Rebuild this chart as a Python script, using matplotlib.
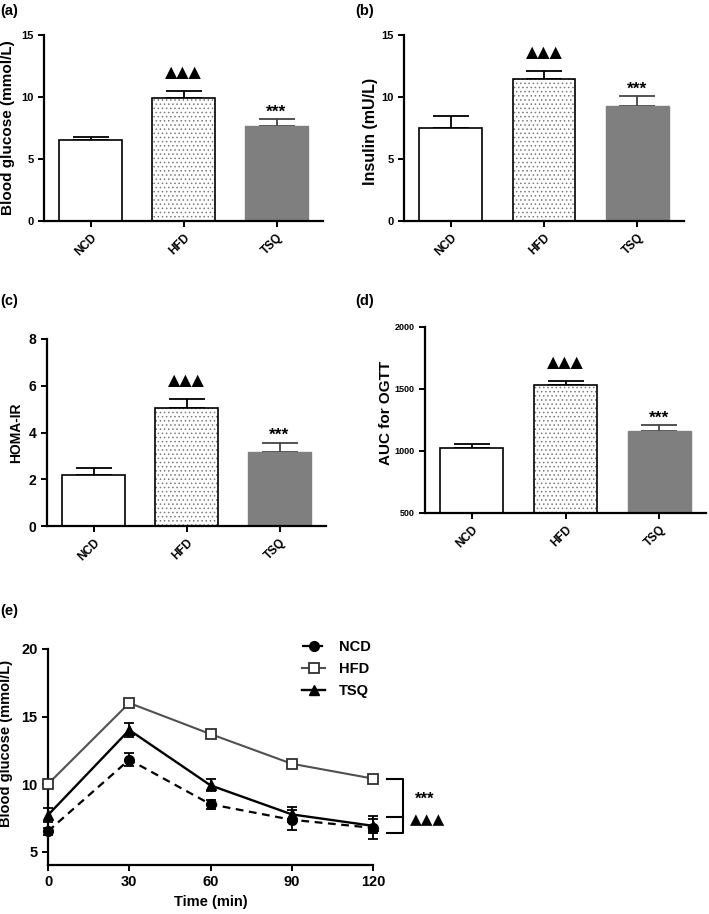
import matplotlib
matplotlib.use("Agg")
import matplotlib.pyplot as plt
from matplotlib.lines import Line2D
import numpy as np

plt.rcParams['font.family'] = ['Liberation Sans', 'DejaVu Sans']
plt.rcParams['font.weight'] = 'bold'
plt.rcParams['hatch.linewidth'] = 0.6

groups = ["NCD", "HFD", "TSQ"]

glucose_mean = [6.5, 9.95, 7.65]
glucose_err = [0.3, 0.55, 0.55]

insulin_mean = [7.5, 11.45, 9.25]
insulin_err = [0.95, 0.65, 0.8]

homa_mean = [2.2, 5.05, 3.15]
homa_err = [0.28, 0.37, 0.4]

auc_mean = [1025, 1535, 1162]
auc_err = [35, 30, 46]

time_min = [0, 30, 60, 90, 120]
ogtt_ncd = [6.5, 11.8, 8.5, 7.35, 6.75]
ogtt_ncd_err = [0.25, 0.5, 0.35, 0.75, 0.85]
ogtt_hfd = [10.0, 16.0, 13.7, 11.5, 10.4]
ogtt_hfd_err = [0.3, 0.2, 0.2, 0.2, 0.2]
ogtt_tsq = [7.7, 14.0, 9.9, 7.75, 6.9]
ogtt_tsq_err = [0.5, 0.5, 0.45, 0.55, 0.5]

W, H = 709, 914
fig = plt.figure(figsize=(W / 100, H / 100), dpi=100)


def ax_px(l, t, r, b):
    return fig.add_axes([l / W, 1 - b / H, (r - l) / W, (b - t) / H])


def style(ax, ytick_fs, xtick_fs):
    for s in ['top', 'right']:
        ax.spines[s].set_visible(False)
    for s in ['left', 'bottom']:
        ax.spines[s].set_linewidth(1.6)
    ax.tick_params(width=1.4, length=4)
    ax.tick_params(axis='y', labelsize=ytick_fs)
    ax.tick_params(axis='x', labelsize=xtick_fs)
    for lab in ax.get_yticklabels() + ax.get_xticklabels():
        lab.set_fontweight('bold')


GRAY = '#7f7f7f'


def bar_panel(ax, means, errs, ylim, yticks, ylabel, ylab_fs, tick_fs, labx, laby,
              tri_off, star_off):
    x = np.arange(len(groups))
    w = 0.67
    ax.bar(x[0], means[0], w, color='white', edgecolor='black', linewidth=1.2, zorder=2)
    ax.bar(x[1], means[1], w, color='white', edgecolor='#7a7a7a', hatch='....',
           linewidth=0, zorder=2)
    ax.bar(x[1], means[1], w, fill=False, edgecolor='black', linewidth=1.2, zorder=3)
    ax.bar(x[2], means[2], w, color=GRAY, edgecolor=GRAY, linewidth=1.0, zorder=2)
    ecols = ['black', 'black', '#444444']
    for i in range(3):
        ax.errorbar(x[i], means[i], yerr=[[0], [errs[i]]], fmt='none', ecolor=ecols[i],
                    elinewidth=1.3, capsize=13, capthick=1.3, zorder=1)
    ax.set_xlim(-0.5, 2.5)
    ax.set_ylim(*ylim)
    ax.set_yticks(yticks)
    ax.set_xticks(x)
    ax.set_xticklabels(groups, rotation=45, ha='right', va='top', rotation_mode='anchor',
                       fontweight='bold')
    ax.set_ylabel(ylabel, fontsize=ylab_fs, fontweight='bold')
    ax.yaxis.set_label_coords(labx, laby)
    style(ax, tick_fs, 8.5)
    ax.annotate('▲▲▲', (x[1], means[1] + errs[1]), xytext=(0, tri_off),
                textcoords='offset points', ha='center', va='baseline',
                fontsize=11.5, family='DejaVu Sans', annotation_clip=False)
    ax.annotate('***', (x[2], means[2] + errs[2]), xytext=(0, star_off),
                textcoords='offset points', ha='center', va='baseline',
                fontsize=12.5, fontweight='bold', annotation_clip=False)


axa = ax_px(44, 35, 323, 221)
bar_panel(axa, glucose_mean, glucose_err, (0, 15), [0, 5, 10, 15],
          'Blood glucose (mmol/L)', 11, 8, -0.104, 0.5, 10, 2)
axb = ax_px(404, 35, 684, 221)
bar_panel(axb, insulin_mean, insulin_err, (0, 15), [0, 5, 10, 15],
          'Insulin (mU/L)', 11.5, 8, -0.093, 0.48, 10, 2)
axc = ax_px(47, 339, 326, 526)
bar_panel(axc, homa_mean, homa_err, (0, 8), [0, 2, 4, 6, 8],
          'HOMA-IR', 10, 10, -0.086, 0.5, 10, 2)
axd = ax_px(425, 327, 706, 513)
bar_panel(axd, auc_mean, auc_err, (500, 2000), [500, 1000, 1500, 2000],
          'AUC for OGTT', 11, 6.5, -0.114, 0.54, 10, 2)

# Panel (e)
ncd_style = dict(color='black', linestyle=(0, (3.5, 2.5)), linewidth=1.6, marker='o',
                 markersize=7)
hfd_style = dict(color='#505050', linestyle='-', linewidth=1.5, marker='s', markersize=7,
                 markerfacecolor='white', markeredgecolor='#303030', markeredgewidth=1.3)
tsq_style = dict(color='black', linestyle='-', linewidth=1.7, marker='^', markersize=7)

axe = ax_px(48, 649, 373, 865)
axe.errorbar(time_min, ogtt_ncd, yerr=ogtt_ncd_err, capsize=3.5, elinewidth=1.3,
             capthick=1.3, clip_on=False, zorder=3, **ncd_style)
axe.errorbar(time_min, ogtt_hfd, yerr=ogtt_hfd_err, capsize=3.5, elinewidth=1.2,
             capthick=1.2, clip_on=False, zorder=4, **hfd_style)
axe.errorbar(time_min, ogtt_tsq, yerr=ogtt_tsq_err, capsize=3.5, elinewidth=1.3,
             capthick=1.3, clip_on=False, zorder=3, **tsq_style)
axe.set_xlim(0, 120)
axe.set_ylim(4, 20)
axe.set_xticks(time_min)
axe.set_yticks([5, 10, 15, 20])
axe.set_xlabel('Time (min)', fontsize=10.5, fontweight='bold')
axe.set_ylabel('Blood glucose (mmol/L)', fontsize=10.5, fontweight='bold')
axe.yaxis.set_label_coords(-0.108, 0.565)
style(axe, 10.5, 10.5)

handles = [Line2D([], [], **ncd_style), Line2D([], [], **hfd_style),
           Line2D([], [], **tsq_style)]
leg = axe.legend(handles, groups, loc='upper left', frameon=False,
                 bbox_to_anchor=(302 / W, 1 - 640 / H), bbox_transform=fig.transFigure,
                 borderpad=0, borderaxespad=0, handlelength=1.6, handletextpad=0.95,
                 labelspacing=0.55, prop={'weight': 'bold', 'size': 10.5})

# bracket
bx0, bx1 = 125.2, 131.1
y_top, y_mid, y_bot = ogtt_hfd[-1], 7.55, 6.4
bk = dict(color='black', linewidth=1.5, clip_on=False)
axe.plot([bx0, bx1, bx1, bx0], [y_top, y_top, y_bot, y_bot], **bk)
axe.plot([bx0, bx1], [y_mid, y_mid], **bk)
axe.text(139, (y_top + y_mid) / 2 - 0.1, '***', ha='center', va='center', fontsize=12,
         fontweight='bold', clip_on=False)
axe.text(140, y_mid - 0.2, '▲▲▲', ha='center', va='center', fontsize=11,
         family='DejaVu Sans', clip_on=False)

# panel labels
for txt, x, y in [('(a)', 0, 11), ('(b)', 355, 11), ('(c)', 0, 301), ('(d)', 355, 301),
                  ('(e)', 0, 611)]:
    fig.text(x / W, 1 - y / H, txt, ha='left', va='center', fontsize=10.5, fontweight='bold')

fig.savefig('out.png', dpi=100)
